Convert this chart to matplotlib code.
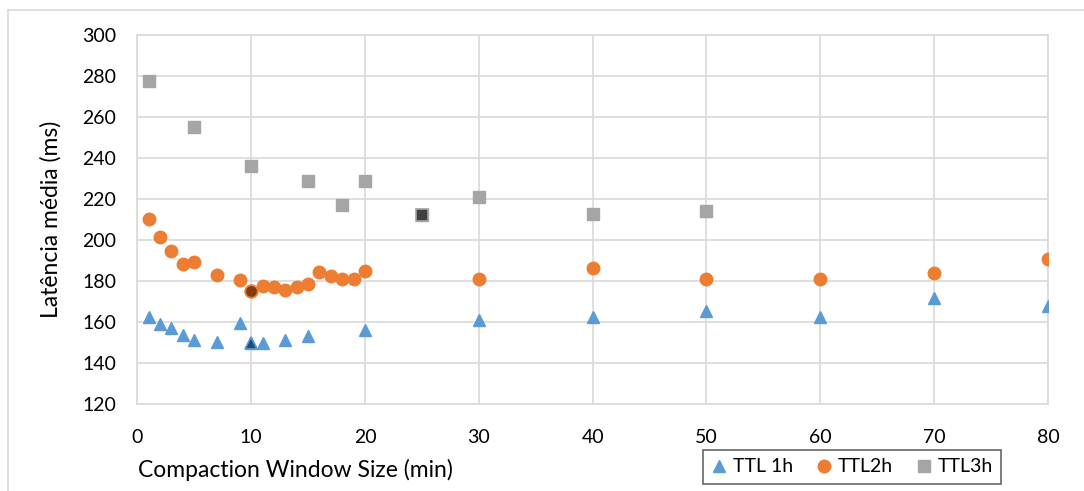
import matplotlib
matplotlib.use("Agg")
import matplotlib.pyplot as plt
from matplotlib.lines import Line2D

plt.rcParams['font.family'] = ['Lato', 'DejaVu Sans']

# data
x_1h = [1, 2, 3, 4, 5, 7, 9, 10, 11, 13, 15, 20, 30, 40, 50, 60, 70, 80]
y_1h = [162.6, 158.9, 156.9, 153.5, 151.2, 150.4, 159.4, 149.6, 149.9, 151.2,
        153.2, 156.1, 161.2, 162.4, 165.3, 162.4, 171.7, 167.7]

x_2h = [1, 2, 3, 4, 5, 7, 9, 10, 11, 12, 13, 14, 15, 16, 17, 18, 19, 20,
        30, 40, 50, 60, 70, 80]
y_2h = [210.3, 201.5, 194.6, 188.2, 189.2, 182.7, 180.7, 175.0, 177.5, 177.0,
        175.8, 177.0, 178.4, 184.6, 182.5, 180.9, 180.9, 185.1,
        181.0, 186.3, 180.9, 181.0, 184.1, 190.7]

x_3h = [1, 5, 10, 15, 18, 20, 25, 30, 40, 50]
y_3h = [277.8, 255.0, 236.3, 228.6, 217.2, 228.6, 212.0, 220.8, 212.7, 214.3]

# highlighted points (x value of each series)
hl_1h, hl_2h, hl_3h = 10, 10, 25

x_ticks = [0, 10, 20, 30, 40, 50, 60, 70, 80]
y_ticks = [120, 140, 160, 180, 200, 220, 240, 260, 280, 300]

blue, orange, grey = '#5B9BD5', '#ED7D31', '#A5A5A5'
fs = 14
fs_title = 16.5

fig = plt.figure(figsize=(10.84, 4.91), dpi=100)
W, H = 1084, 491
ax = fig.add_axes([137.3 / W, 1 - 404 / H, (1048 - 137.3) / W, (404 - 35) / H])

ax.plot(x_1h, y_1h, ls='none', marker='^', ms=9, color=blue, label='TTL 1h', zorder=3)
ax.plot(x_2h, y_2h, ls='none', marker='o', ms=9, color=orange, label='TTL2h', zorder=3)
ax.plot(x_3h, y_3h, ls='none', marker='s', ms=8, color=grey, label='TTL3h', zorder=3)

i = x_1h.index(hl_1h)
ax.plot(x_1h[i], y_1h[i], marker='^', ms=9, color='#1F4E79', mec=blue, mew=1.2, zorder=4)
i = x_2h.index(hl_2h)
ax.plot(x_2h[i], y_2h[i], marker='o', ms=9, color='#843C0C', mec=orange, mew=1.2, zorder=4)
i = x_3h.index(hl_3h)
ax.plot(x_3h[i], y_3h[i], marker='s', ms=8, color='#404040', mec=grey, mew=1.2, zorder=4)

ax.set_xlim(0, 80)
ax.set_ylim(120, 300)
ax.set_xticks(x_ticks)
ax.set_yticks(y_ticks)
ax.tick_params(length=0, labelsize=fs)
ax.tick_params(axis='x', pad=18)
ax.tick_params(axis='y', pad=15)
ax.grid(True, color='#D9D9D9', lw=1.2)
ax.set_axisbelow(True)
for s in ax.spines.values():
    s.set_color('#D9D9D9')
    s.set_linewidth(1.2)

ax.set_ylabel('Latência média (ms)', fontsize=fs_title)
ax.yaxis.set_label_coords((62 - 137.3) / (1048 - 137.3), 0.5)
fig.text(138 / W, 1 - 470 / H, 'Compaction Window Size (min)', fontsize=fs_title,
         ha='left', va='center')

leg = fig.legend(loc='center', bbox_to_anchor=(852 / W, 1 - 467 / H), ncol=3,
                 fontsize=fs, frameon=True, fancybox=False, handlelength=0.8,
                 handletextpad=0.3, columnspacing=1.2, borderpad=0.45)
leg.get_frame().set_edgecolor('#404040')
leg.get_frame().set_linewidth(1.2)

# outer chart border (left and top visible)
fig.add_artist(Line2D([8 / W, 8 / W], [0, 1 - 10 / H], color='#D9D9D9', lw=1.2))
fig.add_artist(Line2D([8 / W, 1], [1 - 10 / H, 1 - 10 / H], color='#D9D9D9', lw=1.2))

fig.savefig('out.png', dpi=100)
